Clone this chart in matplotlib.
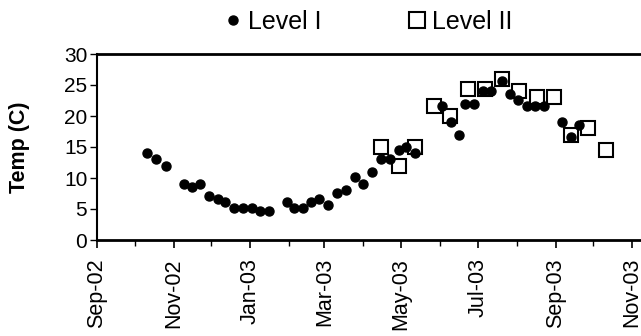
import matplotlib
matplotlib.use("Agg")
import matplotlib.pyplot as plt
import matplotlib.dates as mdates
from matplotlib.lines import Line2D
import pandas as pd

plt.rcParams['font.family'] = ['Liberation Sans', 'DejaVu Sans']

level1_dates = ["2002-10-11", "2002-10-18", "2002-10-26", "2002-11-09", "2002-11-16",
                "2002-11-22", "2002-11-29", "2002-12-06", "2002-12-12", "2002-12-19",
                "2002-12-26", "2003-01-02", "2003-01-09", "2003-01-16", "2003-01-30",
                "2003-02-05", "2003-02-12", "2003-02-18", "2003-02-25", "2003-03-04",
                "2003-03-11", "2003-03-18", "2003-03-25", "2003-04-01", "2003-04-08",
                "2003-04-15", "2003-04-22", "2003-04-29", "2003-05-05", "2003-05-12",
                "2003-06-03", "2003-06-10", "2003-06-16", "2003-06-21", "2003-06-28",
                "2003-07-05", "2003-07-12", "2003-07-20", "2003-07-27", "2003-08-02",
                "2003-08-09", "2003-08-16", "2003-08-23", "2003-09-06", "2003-09-13",
                "2003-09-20"]
level1_temp = [14.1, 13.1, 12.0, 9.1, 8.6,
               9.1, 7.1, 6.6, 6.1, 5.1,
               5.1, 5.1, 4.6, 4.6, 6.1,
               5.1, 5.1, 6.1, 6.6, 5.7,
               7.6, 8.1, 10.2, 9.1, 11.0,
               13.1, 13.1, 14.5, 15.0, 14.1,
               21.6, 19.0, 17.0, 22.0, 22.0,
               24.1, 24.1, 25.6, 23.5, 22.6,
               21.6, 21.6, 21.6, 19.1, 16.6,
               18.6]

level2_dates = ["2003-04-15", "2003-04-29", "2003-05-12", "2003-05-27", "2003-06-09",
                "2003-06-23", "2003-07-07", "2003-07-20", "2003-08-03", "2003-08-17",
                "2003-08-31", "2003-09-13", "2003-09-27", "2003-10-11"]
level2_temp = [15.0, 12.0, 15.0, 21.6, 20.0,
               24.4, 24.4, 26.0, 24.1, 23.1,
               23.1, 16.9, 18.1, 14.5]

x_ticks = pd.date_range("2002-09-01", "2003-11-01", freq="2MS")
x_tick_labels = [d.strftime("%b-%y") for d in x_ticks]
y_ticks = [0, 5, 10, 15, 20, 25, 30]

fig = plt.figure(figsize=(6.41, 3.36), dpi=100)
ax = fig.add_axes([97/641, 1-240/336, 1-97/641, (240-54)/336])

d1 = pd.to_datetime(level1_dates)
d2 = pd.to_datetime(level2_dates)

ax.plot(d2, level2_temp, linestyle='none', marker='s', markersize=9.5,
        markerfacecolor='white', markeredgecolor='black', markeredgewidth=1.5,
        zorder=2, clip_on=False)
ax.plot(d1, level1_temp, linestyle='none', marker='o', markersize=6.5,
        color='black', zorder=3, clip_on=False)

ax.set_xlim(pd.Timestamp("2002-09-01"), pd.Timestamp("2003-11-08"))
ax.set_ylim(0, 30)
ax.set_xticks(x_ticks)
ax.set_xticklabels(x_tick_labels, rotation=90, fontsize=15.5)
ax.xaxis.set_minor_locator(mdates.MonthLocator())
ax.set_yticks(y_ticks)
ax.set_yticklabels([str(v) for v in y_ticks], fontsize=15)
ax.tick_params(axis='x', which='major', direction='out', length=6, width=1.2, pad=7)
ax.tick_params(axis='x', which='minor', direction='out', length=4, width=1.0)
ax.tick_params(axis='y', direction='out', length=5, width=1.0, pad=2)
ax.set_ylabel("Temp (C)", fontsize=15.5, fontweight='bold')
ax.yaxis.set_label_coords((30 - 97) / (641 - 97), 0.5)

ax.spines['bottom'].set_linewidth(2)
ax.spines['top'].set_linewidth(2)
ax.spines['left'].set_linewidth(1.5)
ax.spines['right'].set_visible(False)

h1 = Line2D([], [], linestyle='none', marker='o', markersize=6.5, color='black')
h2 = Line2D([], [], linestyle='none', marker='s', markersize=11,
            markerfacecolor='white', markeredgecolor='black', markeredgewidth=1.5)
fig.legend([h1, h2], ["Level I", "Level II"],
           loc='center left', bbox_to_anchor=(223/641, 1-22/336), ncol=2, frameon=False,
           fontsize=18, handlelength=0.8, handletextpad=0.2, columnspacing=3.4,
           borderpad=0, borderaxespad=0)

fig.savefig("out.png", dpi=100)
